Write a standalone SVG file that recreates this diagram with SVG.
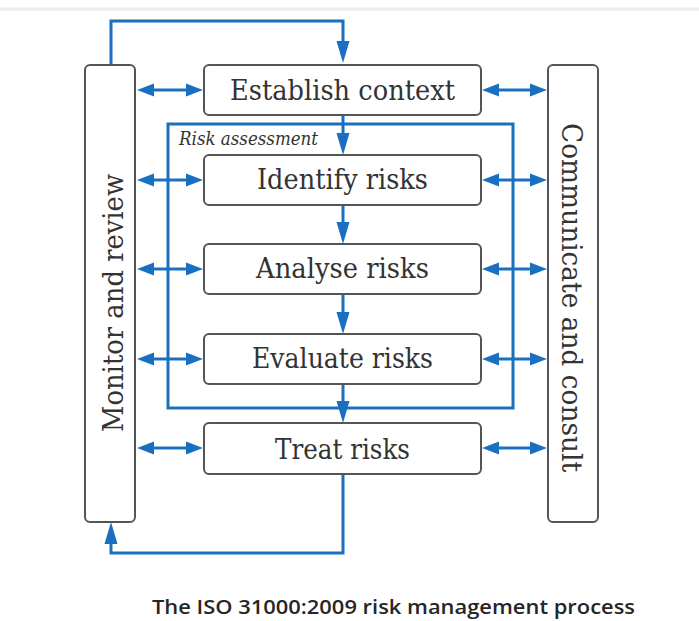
<svg xmlns="http://www.w3.org/2000/svg" width="699" height="621" viewBox="0 0 699 621">
  <style>
    .box { fill: #ffffff; stroke: #555555; stroke-width: 2; }
    .lbl { font-family: "DejaVu Serif", "Liberation Serif", serif; font-size: 27px; fill: #333333; text-anchor: middle; }
    .vlbl { font-family: "DejaVu Serif", "Liberation Serif", serif; font-size: 28px; fill: #333333; text-anchor: middle; }
    .flow { fill: none; stroke: #1a70c0; stroke-width: 3; }
    .frame { fill: none; stroke: #1a70c0; stroke-width: 3; }
    .cap { font-family: "Open Sans", "Noto Sans", sans-serif; font-weight: 600; font-size: 20px; fill: #262626; }
  </style>
  <defs>
    <!-- long arrowhead for the vertical flow -->
    <marker id="ahv" markerUnits="userSpaceOnUse" markerWidth="24" markerHeight="14" refX="0" refY="6.5" orient="auto-start-reverse" overflow="visible">
      <path d="M0,0 L22,6.5 L0,13 z" fill="#1a70c0"/>
    </marker>
    <!-- shorter arrowhead for the side exchanges -->
    <marker id="ahh" markerUnits="userSpaceOnUse" markerWidth="20" markerHeight="14" refX="0" refY="6.5" orient="auto-start-reverse" overflow="visible">
      <path d="M0,0 L17,6.5 L0,13 z" fill="#1a70c0"/>
    </marker>
  </defs>

  <rect width="699" height="621" fill="#ffffff"/>
  <line x1="0" y1="9" x2="699" y2="9" stroke="#ebebeb" stroke-width="3"/>

  <!-- risk assessment frame -->
  <g id="risk-assessment">
    <rect class="frame" x="168" y="124" width="345" height="284"/>
    <text x="179" y="145" font-family="DejaVu Serif, Liberation Serif, serif" font-style="italic" font-size="18" fill="#333333" textLength="139" lengthAdjust="spacingAndGlyphs">Risk assessment</text>
  </g>

  <g id="connectors">
    <!-- feedback loops -->
    <path class="flow" d="M111,65 V21 H343 V41" marker-end="url(#ahv)"/>
    <path class="flow" d="M343,474 V553 H111 V544" marker-end="url(#ahv)"/>
    <!-- main sequence -->
    <line class="flow" x1="343" y1="115" x2="343" y2="133" marker-end="url(#ahv)"/>
    <line class="flow" x1="343" y1="205" x2="343" y2="222" marker-end="url(#ahv)"/>
    <line class="flow" x1="343" y1="294" x2="343" y2="312" marker-end="url(#ahv)"/>
    <line class="flow" x1="343" y1="384" x2="343" y2="401" marker-end="url(#ahv)"/>
    <!-- monitor and review exchanges -->
    <line class="flow" x1="154" y1="90" x2="186" y2="90" marker-start="url(#ahh)" marker-end="url(#ahh)"/>
    <line class="flow" x1="154" y1="180" x2="186" y2="180" marker-start="url(#ahh)" marker-end="url(#ahh)"/>
    <line class="flow" x1="154" y1="269" x2="186" y2="269" marker-start="url(#ahh)" marker-end="url(#ahh)"/>
    <line class="flow" x1="154" y1="359" x2="186" y2="359" marker-start="url(#ahh)" marker-end="url(#ahh)"/>
    <line class="flow" x1="154" y1="448" x2="186" y2="448" marker-start="url(#ahh)" marker-end="url(#ahh)"/>
    <!-- communicate and consult exchanges -->
    <line class="flow" x1="499" y1="90" x2="530" y2="90" marker-start="url(#ahh)" marker-end="url(#ahh)"/>
    <line class="flow" x1="499" y1="180" x2="530" y2="180" marker-start="url(#ahh)" marker-end="url(#ahh)"/>
    <line class="flow" x1="499" y1="269" x2="530" y2="269" marker-start="url(#ahh)" marker-end="url(#ahh)"/>
    <line class="flow" x1="499" y1="359" x2="530" y2="359" marker-start="url(#ahh)" marker-end="url(#ahh)"/>
    <line class="flow" x1="499" y1="448" x2="530" y2="448" marker-start="url(#ahh)" marker-end="url(#ahh)"/>
  </g>

  <g id="monitor-review">
    <rect class="box" x="85" y="65" width="50" height="457" rx="5"/>
    <text class="vlbl" transform="translate(123,303) rotate(-90)" textLength="258" lengthAdjust="spacingAndGlyphs">Monitor and review</text>
  </g>

  <g id="communicate-consult">
    <rect class="box" x="548" y="65" width="50" height="457" rx="5"/>
    <text class="vlbl" transform="translate(562,297.5) rotate(90)" textLength="349" lengthAdjust="spacingAndGlyphs">Communicate and consult</text>
  </g>

  <g id="establish-context">
    <rect class="box" x="204" y="65" width="277" height="50" rx="5"/>
    <text class="lbl" x="342.5" y="100" textLength="225" lengthAdjust="spacingAndGlyphs">Establish context</text>
  </g>

  <g id="identify-risks">
    <rect class="box" x="204" y="155" width="277" height="50" rx="5"/>
    <text class="lbl" x="342.5" y="189" textLength="171" lengthAdjust="spacingAndGlyphs">Identify risks</text>
  </g>

  <g id="analyse-risks">
    <rect class="box" x="204" y="244" width="277" height="50" rx="5"/>
    <text class="lbl" x="342.5" y="278" textLength="173" lengthAdjust="spacingAndGlyphs">Analyse risks</text>
  </g>

  <g id="evaluate-risks">
    <rect class="box" x="204" y="334" width="277" height="50" rx="5"/>
    <text class="lbl" x="342.5" y="368" textLength="181" lengthAdjust="spacingAndGlyphs">Evaluate risks</text>
  </g>

  <g id="treat-risks">
    <rect class="box" x="204" y="423" width="277" height="51" rx="5"/>
    <text class="lbl" x="342.5" y="459" textLength="135" lengthAdjust="spacingAndGlyphs">Treat risks</text>
  </g>

  <text class="cap" x="152" y="614" textLength="483" lengthAdjust="spacingAndGlyphs">The ISO 31000:2009 risk management process</text>
</svg>
